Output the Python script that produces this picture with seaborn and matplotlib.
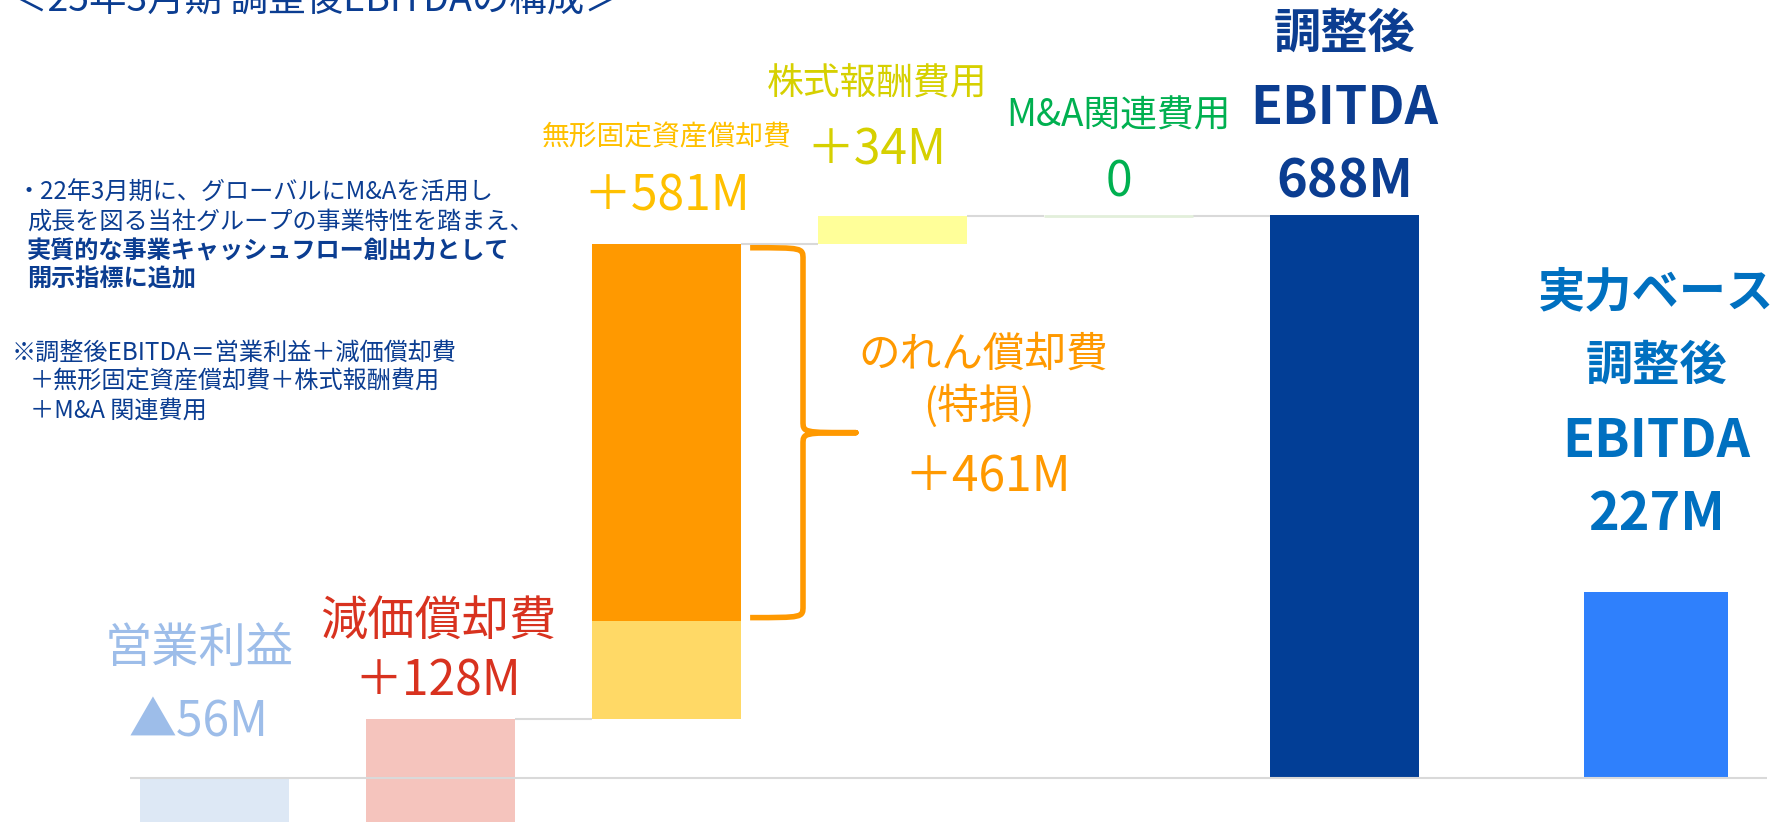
"""
25年3月期 調整後EBITDAの構成（ウォーターフォール）
"""

import numpy as np
import pandas as pd
import matplotlib
matplotlib.use('Agg')
import matplotlib.pyplot as plt
import matplotlib.transforms as mtransforms
from matplotlib.path import Path
from matplotlib.patches import PathPatch
import seaborn as sns

# ---- データ（百万円） ----
categories = ['営業利益', '減価償却費', '無形固定資産償却費', '株式報酬費用', 'M&A関連費用']
steps = [-56, 128, 581, 34, 0]
step_labels = ['▲56M', '＋128M', '＋581M', '＋34M', '0']

total_names = [['調整後', 'EBITDA'], ['実力ベース', '調整後', 'EBITDA']]
totals = [688, 227]
total_labels = ['688M', '227M']

goodwill_name = ['のれん償却費', '(特損)']
goodwill = 461
goodwill_label = '＋461M'

title = '＜25年3月期 調整後EBITDAの構成＞'
notes = [
    ('・22年3月期に、グローバルにM&Aを活用し', 'normal'),
    ('成長を図る当社グループの事業特性を踏まえ、', 'normal'),
    ('実質的な事業キャッシュフロー創出力として', 'bold'),
    ('開示指標に追加', 'bold'),
    ('※調整後EBITDA＝営業利益＋減価償却費', 'normal'),
    ('＋無形固定資産償却費＋株式報酬費用', 'normal'),
    ('＋M&A 関連費用', 'normal'),
]

# ---- 色 ----
bar_colors = ['#dde8f5', '#f5c4bd', '#ffd966', '#ffff99', '#e2efda']
text_colors = ['#9dbde9', '#d8321f', '#ffc000', '#d6d000', '#00b050']
total_bar_colors = ['#023e96', '#2f80fc']
total_text_colors = ['#0b3d91', '#0070c0']
goodwill_color = '#ff9900'
navy = '#0b3d91'
line_gray = '#d9d9d9'

# ---- レイアウト ----
W, H = 1777, 822
slots = [0, 1, 2, 3, 4, 5, 6.38]
bar_width = 0.66
px_per_slot = 226.0
x0_px = 214.5
baseline_px = 778
px_per_m = 563 / 688

sns.set_theme(style='white')
plt.rcParams['font.family'] = ['Noto Sans CJK JP', 'DejaVu Sans']

fig = plt.figure(figsize=(W / 100, H / 100), dpi=100)
ax = fig.add_axes([0, 0, 1, 1])

# ピクセル（上から）座標 → 図
pix = mtransforms.Affine2D().scale(1 / W, -1 / H).translate(0, 1) + fig.transFigure
bar_x = mtransforms.blended_transform_factory(ax.transData, pix)

# ---- 棒 ----
levels = np.cumsum(steps)
bottoms = np.concatenate([[0], levels[:-1]])

seg = pd.DataFrame({
    'slot': slots[:5] + [slots[2]] + slots[5:],
    'bottom': list(bottoms) + [levels[2] - goodwill, 0, 0],
    'height': steps + [goodwill] + totals,
    'color': bar_colors + [goodwill_color] + total_bar_colors,
    'width': [bar_width] * 7 + [0.637],
})

for r in seg.itertuples():
    sns.barplot(x=[r.slot], y=[r.height], orient='x', native_scale=True,
                width=r.width, color=r.color, saturation=1, errorbar=None,
                bottom=r.bottom, edgecolor=r.color,
                linewidth=2 if r.height == 0 else 0, zorder=2, ax=ax)

# 基準線とつなぎ線
ax.hlines(0, slots[0] - 0.374, slots[-1] + 0.49, color=line_gray, lw=1.5, zorder=3)
for i in range(1, 5):
    ax.hlines(levels[i], slots[i] + bar_width / 2, slots[i + 1] - bar_width / 2,
              color=line_gray, lw=1.5, zorder=1)

# ---- 中括弧（のれん償却費） ----
right = slots[2] + bar_width / 2
x_tip, x_sp, x_pt = right + 0.04, right + 0.274, right + 0.508
y_top, y_bot = levels[2] - 5, levels[2] - goodwill + 4
y_mid = (y_top + y_bot) / 2
r = 14
verts = [
    (x_tip, y_top), (x_sp, y_top), (x_sp, y_top), (x_sp, y_top - r),
    (x_sp, y_mid + r),
    (x_sp, y_mid), (x_sp, y_mid), (x_pt, y_mid),
    (x_sp, y_mid), (x_sp, y_mid), (x_sp, y_mid - r),
    (x_sp, y_bot + r),
    (x_sp, y_bot), (x_sp, y_bot), (x_tip, y_bot),
]
codes = [Path.MOVETO, Path.CURVE4, Path.CURVE4, Path.CURVE4,
         Path.LINETO,
         Path.CURVE4, Path.CURVE4, Path.CURVE4,
         Path.CURVE4, Path.CURVE4, Path.CURVE4,
         Path.LINETO,
         Path.CURVE4, Path.CURVE4, Path.CURVE4]
ax.add_patch(PathPatch(Path(verts, codes), facecolor='none', edgecolor=goodwill_color,
                       lw=4, capstyle='butt', joinstyle='round', zorder=4))

# ---- ラベル ----
cat_y = [649, 623, 137, 84, 116]
cat_size = [34, 34, 20, 26.5, 26.5]
val_y = [723, 682, 197, 151, 183]
dx = [-0.07, -0.01, 0, -0.07, 0]
for i in range(5):
    ax.text(slots[i] + dx[i], cat_y[i], categories[i], transform=bar_x,
            ha='center', va='center', fontsize=cat_size[i], color=text_colors[i])
    ax.text(slots[i] + dx[i], val_y[i], step_labels[i], transform=bar_x,
            ha='center', va='center', fontsize=34.5, color=text_colors[i])

total_y = [[34, 108], [292, 366, 441]]
total_val_y = [182, 514]
for j in range(2):
    s = slots[5 + j]
    for line, y in zip(total_names[j], total_y[j]):
        ax.text(s, y, line, transform=bar_x, ha='center', va='center',
                fontsize=34 if line != 'EBITDA' else 37.5, fontweight='bold',
                color=total_text_colors[j])
    ax.text(s, total_val_y[j], total_labels[j], transform=bar_x, ha='center',
            va='center', fontsize=37.5, fontweight='bold', color=total_text_colors[j])

gw_x = 3.40
ax.text(gw_x, 355, goodwill_name[0], transform=bar_x, ha='center', va='center',
        fontsize=30, color=goodwill_color)
ax.text(gw_x - 0.02, 406, goodwill_name[1], transform=bar_x, ha='center', va='center',
        fontsize=30, color=goodwill_color)
ax.text(gw_x + 0.02, 478, goodwill_label, transform=bar_x, ha='center', va='center',
        fontsize=34.5, color=goodwill_color)

# タイトル（上端で切れている）
fig.text(10, 11, title, transform=pix, ha='left', va='baseline', fontsize=27, color=navy)

# 注記
note_pos = [(17, 193), (27, 222), (27, 251), (27, 279), (12, 353), (30, 382), (30, 411)]
for (txt, wt), (x, y) in zip(notes, note_pos):
    fig.text(x, y, txt, transform=pix, ha='left', va='center', fontsize=17.4,
             fontweight=wt, color=navy)

ax.set_xlim(-x0_px / px_per_slot, (W - x0_px) / px_per_slot)
ax.set_ylim(-(H - baseline_px) / px_per_m, baseline_px / px_per_m)
ax.axis('off')

fig.savefig('out.png', dpi=100)
plt.close(fig)
